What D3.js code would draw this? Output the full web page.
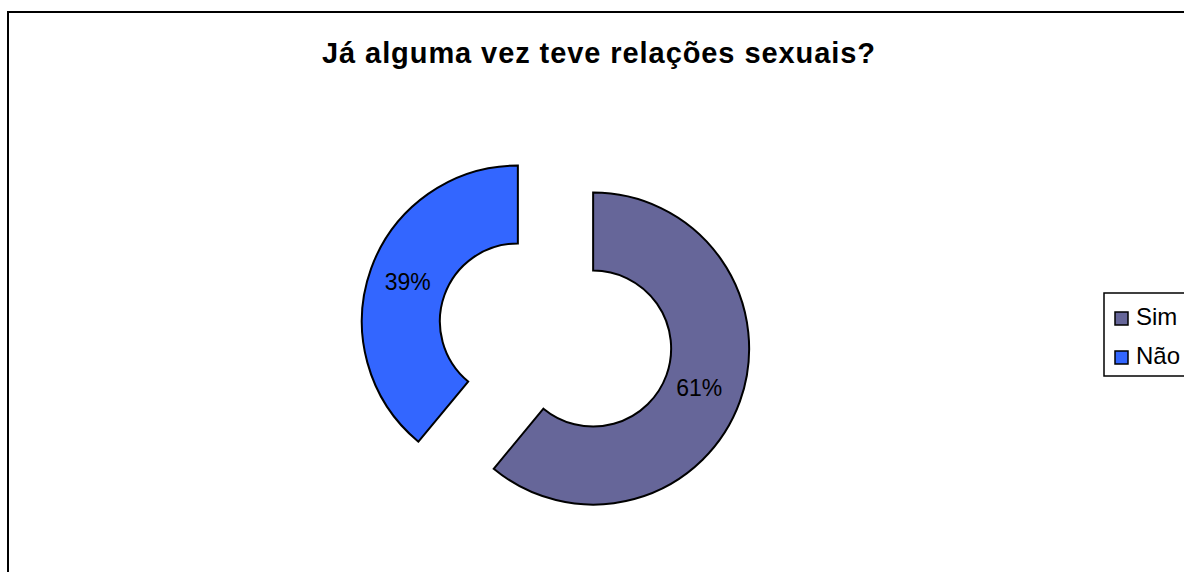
<!DOCTYPE html>
<html><head><meta charset="utf-8">
<script src="https://cdn.jsdelivr.net/npm/d3@7"></script>
<style>body{margin:0;background:#fff}svg{display:block}</style>
</head><body>
<svg id="c" width="1184" height="572"></svg>
<script>
const categories = ["Sim", "Não"];
const values = [61, 39];
const colors = ["#666699", "#3366FF"];
const title = "Já alguma vez teve relações sexuais?";
const FONT = "Liberation Sans, Arial, sans-serif";

const svg = d3.select("#c");
svg.append("rect").attr("x", 8).attr("y", 12).attr("width", 1200).attr("height", 600)
  .attr("fill", "#fff").attr("stroke", "#000").attr("stroke-width", 2);

svg.append("text").attr("x", 598.5).attr("y", 63).attr("text-anchor", "middle")
  .attr("font-family", FONT).attr("font-weight", "bold")
  .attr("font-size", 29).attr("textLength", 553).attr("lengthAdjust", "spacing").text(title);

const cx = 555.5, cy = 335, R = 156, r = 78, explode = 40;
const pie = d3.pie().sort(null).value(d => d)(values);
const arc = d3.arc().innerRadius(r).outerRadius(R);
const g = svg.append("g").attr("transform", `translate(${cx},${cy})`);
pie.forEach((p, i) => {
  const mid = (p.startAngle + p.endAngle) / 2;
  const dx = Math.sin(mid) * explode, dy = -Math.cos(mid) * explode;
  const sg = g.append("g").attr("transform", `translate(${dx},${dy})`);
  sg.append("path").attr("d", arc(p)).attr("fill", colors[i])
    .attr("stroke", "#000").attr("stroke-width", 2);
  const [lx, ly] = arc.centroid(p);
  sg.append("text").attr("x", lx - (i === 0 ? 4 : 0)).attr("y", ly).attr("dy", "0.35em")
    .attr("text-anchor", "middle").attr("font-family", FONT)
    .attr("font-size", 23).text(Math.round(values[i]) + "%");
});

const lg = svg.append("g");
lg.append("rect").attr("x", 1104).attr("y", 293).attr("width", 100).attr("height", 83)
  .attr("fill", "#fff").attr("stroke", "#000").attr("stroke-width", 1.5);
categories.forEach((c, i) => {
  const base = 325 + i * 39;
  lg.append("rect").attr("x", 1115).attr("y", base - 13).attr("width", 13).attr("height", 13)
    .attr("fill", colors[i]).attr("stroke", "#000").attr("stroke-width", 1.5);
  lg.append("text").attr("x", 1136).attr("y", base)
    .attr("font-family", FONT).attr("font-size", 24).text(c);
});
</script>
</body></html>
